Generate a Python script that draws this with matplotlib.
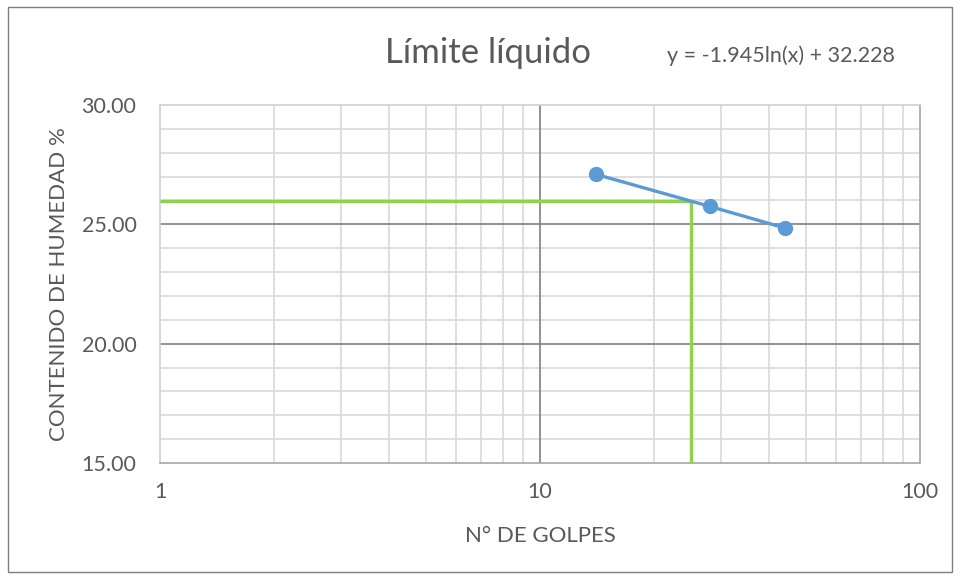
import numpy as np
import matplotlib
matplotlib.use("Agg")
import matplotlib.pyplot as plt
from matplotlib.ticker import FixedLocator, NullFormatter, FuncFormatter

plt.rcParams['font.family'] = ['Lato', 'DejaVu Sans']

golpes = [14, 28, 44]
humedad = [27.10, 25.75, 24.85]
ll_golpes = 25
ll_humedad = 25.97
title = "Límite líquido"
equation = "y = -1.945ln(x) + 32.228"
xlabel = "N° DE GOLPES"
ylabel = "CONTENIDO DE HUMEDAD %"

txt = "#595959"
fig = plt.figure(figsize=(9.6, 5.79), dpi=100)
ax = fig.add_axes([160/960, 1-463/579, 760/960, 358/579])
ax.set_xscale('log')
ax.set_xlim(1, 100)
ax.set_ylim(15, 30)

# grid
for v in [2, 3, 4, 5, 6, 7, 8, 9, 20, 30, 40, 50, 60, 70, 80, 90]:
    ax.axvline(v, color="#d9d9d9", lw=1.2, zorder=0)
for v in range(16, 30):
    if v not in (20, 25):
        ax.axhline(v, color="#d9d9d9", lw=1.2, zorder=0)
for v in [10]:
    ax.axvline(v, color="#7f7f7f", lw=1.2, zorder=1)
for v in [20, 25]:
    ax.axhline(v, color="#7f7f7f", lw=1.2, zorder=1)

for s in ['left', 'top']:
    ax.spines[s].set_color("#d0d0d0")
    ax.spines[s].set_linewidth(1.2)
for s in ['bottom', 'right']:
    ax.spines[s].set_color("#a6a6a6")
    ax.spines[s].set_linewidth(1.2)

# green lines
ax.plot([1, ll_golpes], [ll_humedad, ll_humedad], color="#92d050", lw=2.4, zorder=3, solid_capstyle='butt')
ax.plot([ll_golpes, ll_golpes], [15, ll_humedad], color="#92d050", lw=2.4, zorder=3, solid_capstyle='butt', clip_on=False)

ax.plot(golpes, humedad, color="#5b9bd5", lw=2.4, marker='o', markersize=10, zorder=4)

ax.xaxis.set_major_locator(FixedLocator([1, 10, 100]))
ax.xaxis.set_major_formatter(FuncFormatter(lambda v, p: f"{v:g}"))
ax.xaxis.set_minor_formatter(NullFormatter())
ax.set_yticks([15, 20, 25, 30])
ax.yaxis.set_major_formatter(FuncFormatter(lambda v, p: f"{v:.2f}"))
ax.tick_params(which='both', length=0, labelsize=15.5, colors=txt)
ax.tick_params(axis='x', pad=14)
ax.tick_params(axis='y', pad=17)

fig.text(488/960, 1-63/579, title, ha='center', va='baseline', fontsize=25, color=txt)
fig.text(781/960, 1-62/579, equation, ha='center', va='baseline', fontsize=15.5, color=txt)
fig.text(540/960, 1-542/579, xlabel, ha='center', va='baseline', fontsize=16, color=txt)
fig.text(59/960, 1-284/579, ylabel, ha='center', va='center', fontsize=16, color=txt, rotation=90)

# outer border
fig.add_artist(plt.Rectangle((8/960, 7/579), 944/960, 565/579, transform=fig.transFigure,
                             fill=False, edgecolor="#7f7f7f", lw=1))

fig.savefig("out.png", dpi=100, facecolor="white")
